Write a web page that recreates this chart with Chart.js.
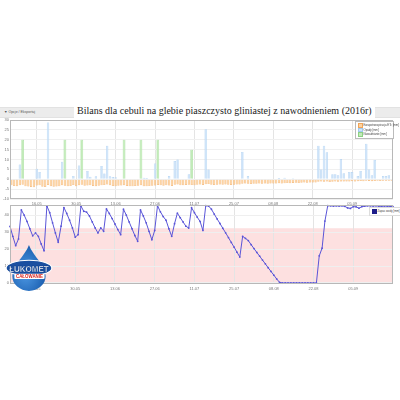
<!DOCTYPE html>
<html>
<head>
<meta charset="utf-8">
<script src="https://cdn.jsdelivr.net/npm/chart.js@4.4.0/dist/chart.umd.min.js"></script>
<style>
  html, body { margin: 0; padding: 0; background: #fff; width: 400px; height: 400px; overflow: hidden; position: relative; font-family: "Liberation Sans", Arial, sans-serif; }
  #band { position: absolute; left: 0; top: 107px; width: 400px; height: 9px; background: #ececec; border-top: 1px solid #e2e2e2; border-bottom: 1px solid #e2e2e2; }
  #opts { position: absolute; left: 4px; top: 109px; font-size: 3.5px; line-height: 6px; color: #555; white-space: nowrap; }
  #title { position: absolute; left: 74px; top: 104px; padding: 0 3px; background: #fff; font-family: "Liberation Serif", "DejaVu Serif", serif; font-size: 10px; line-height: 14px; color: #222; white-space: nowrap; }
  canvas { position: absolute; left: 0; }
  #c1 { top: 114px; }
  #c2 { top: 201px; }
  .legend { position: absolute; background: #fff; border: 0.5px solid #bbb; font-size: 2.8px; line-height: 3.3px; color: #444; padding: 1px 2px; white-space: nowrap; }
  .legend span.sw { display: inline-block; width: 2.5px; height: 2.5px; margin-right: 1px; vertical-align: middle; border: 0.3px solid #999; }
  #leg1 { left: 355px; top: 121px; width: 33px; }
  #leg2 { left: 369px; top: 207px; border-color: #ddd; }
  #logo { position: absolute; left: 4px; top: 242px; overflow: visible; }
</style>
</head>
<body>
<div id="band"></div>
<div id="opts">▼ Opcje / Eksportuj</div>
<div id="title">Bilans dla cebuli na glebie piaszczysto gliniastej z nawodnieniem (2016r)</div>
<canvas id="c1" width="400" height="93"></canvas>
<canvas id="c2" width="400" height="93"></canvas>
<div id="leg1" class="legend"></div>
<div id="leg2" class="legend"></div>
<svg id="logo" width="52" height="52" viewBox="0 0 50 50">
  <defs>
    <radialGradient id="drop" cx="0.4" cy="0.6" r="0.7">
      <stop offset="0" stop-color="#4f9be6"/>
      <stop offset="1" stop-color="#1456a8"/>
    </radialGradient>
  </defs>
  <path d="M24 3 C 20 14, 8 22, 8 33 A 16 14 0 0 0 40 33 C 40 22, 28 14, 24 3 Z" fill="url(#drop)"/>
  <ellipse cx="24" cy="25" rx="22" ry="7.5" fill="#1a4fa0" stroke="#fff" stroke-width="1"/>
  <text x="5" y="28.5" textLength="38" lengthAdjust="spacingAndGlyphs" font-family="Liberation Sans, Arial, sans-serif" font-weight="bold" font-size="8.5" fill="#fff" stroke="#0d3a80" stroke-width="0.3">ŁUKOMET</text>
  <rect x="10" y="30.5" width="29" height="5" rx="1" fill="#fff"/>
  <text x="11.5" y="34.7" textLength="26" lengthAdjust="spacingAndGlyphs" font-family="Liberation Sans, Arial, sans-serif" font-weight="bold" font-size="4.4" fill="#d9231d">CAŁOWANIE</text>
</svg>
<script>
// Days of the season, 07.05 – 19.09.2016
const dates = [
  "07.05","08.05","09.05","10.05","11.05","12.05","13.05","14.05","15.05","16.05","17.05","18.05","19.05","20.05","21.05","22.05","23.05","24.05","25.05","26.05","27.05","28.05","29.05","30.05","31.05",
  "01.06","02.06","03.06","04.06","05.06","06.06","07.06","08.06","09.06","10.06","11.06","12.06","13.06","14.06","15.06","16.06","17.06","18.06","19.06","20.06","21.06","22.06","23.06","24.06","25.06","26.06","27.06","28.06","29.06","30.06",
  "01.07","02.07","03.07","04.07","05.07","06.07","07.07","08.07","09.07","10.07","11.07","12.07","13.07","14.07","15.07","16.07","17.07","18.07","19.07","20.07","21.07","22.07","23.07","24.07","25.07","26.07","27.07","28.07","29.07","30.07","31.07",
  "01.08","02.08","03.08","04.08","05.08","06.08","07.08","08.08","09.08","10.08","11.08","12.08","13.08","14.08","15.08","16.08","17.08","18.08","19.08","20.08","21.08","22.08","23.08","24.08","25.08","26.08","27.08","28.08","29.08","30.08","31.08",
  "01.09","02.09","03.09","04.09","05.09","06.09","07.09","08.09","09.09","10.09","11.09","12.09","13.09","14.09","15.09","16.09","17.09","18.09","19.09"
];

// Dates that carry an axis label (Mondays, every two weeks)
const labelledDates = ["16.05","30.05","13.06","27.06","11.07","25.07","08.08","22.08","05.09"];

// Crop evapotranspiration ETc [mm] (drawn below zero)
const etc = [
  -3.1,-3.4,-3.6,-3.0,-2.8,-3.5,-3.7,-3.9,-4.0,-3.2,
  -3.0,-3.8,-3.9,-2.9,-3.6,-3.8,-3.7,-3.5,-3.0,-3.3,
  -3.6,-3.4,-2.9,-3.5,-3.1,-2.8,-3.3,-3.2,-3.0,-3.4,
  -3.5,-3.3,-3.0,-2.9,-2.6,-3.1,-3.4,-3.5,-3.3,-3.2,
  -3.0,-3.4,-3.6,-3.5,-3.4,-3.3,-3.1,-3.5,-3.6,-3.4,
  -3.3,-3.2,-2.9,-3.1,-3.3,-3.0,-3.2,-3.4,-2.8,-2.6,
  -3.0,-3.1,-2.9,-2.8,-2.9,-3.0,-2.8,-2.7,-2.9,-2.5,
  -2.4,-2.8,-2.9,-2.8,-2.7,-2.8,-2.7,-2.8,-2.9,-2.8,
  -2.7,-2.6,-2.3,-2.2,-2.3,-2.4,-2.3,-2.3,-2.2,-2.3,
  -2.2,-2.3,-2.2,-2.1,-2.2,-2.0,-2.1,-2.0,-1.9,-2.0,
  -1.9,-1.8,-1.9,-1.8,-1.7,-1.8,-1.7,-1.6,-1.7,-1.3,
  -1.2,-1.3,-1.2,-1.4,-1.3,-1.2,-1.3,-1.1,-1.2,-1.2,
  -1.1,-1.0,-1.1,-1.0,-0.9,-1.0,-0.8,-0.9,-1.0,-0.9,
  -0.8,-0.9,-0.8,-0.7,-0.8,-0.8
];

// Precipitation [mm]
const rain = [
  0,0,0,7.5,0,0,0,0,0,5.3,
  3.7,0,0,28.7,0,0,0,0,8.8,0,
  0,0,1.7,0,7,0,0,4.2,1.3,0,
  1.5,0,6.7,2.9,17,1.5,1.2,1.0,0,0,
  0,0,0,0,0,0,0,0.8,0.6,0,
  0,8,0,0,0,0,1.7,0,9.2,10,
  0,0,0,2.5,0,0,0,0,0,25.3,
  5,0,0,0,0,0,0,0,0,0,
  0,0,13.8,0,1.7,0,0,0,0,0,
  0,0,0,0,0,0.6,0,0.8,0,0,
  0.5,0,0,0,0,0,0,0,0,17,
  5,17,13.7,0,2.5,2.5,2,10.3,3,0,
  3.7,3.7,0,1.7,4.2,0,18,5,2,9.7,
  0,0,1.7,1.7,2,0
];

// Irrigation doses [mm]
const irrigation = [
  0,0,0,0,20,0,0,0,0,0,
  0,0,0,0,0,0,0,0,0,20,
  0,0,0,0,0,20,0,0,0,0,
  0,0,0,0,0,0,0,0,0,0,
  20,0,0,0,0,0,20,0,0,0,
  0,0,20,0,0,0,0,0,0,0,
  0,0,0,0,15,0,0,0,0,0,
  0,0,0,0,0,0,0,0,0,0,
  0,0,0,0,0,0,0,0,0,0,
  0,0,0,0,0,0,0,0,0,0,
  0,0,0,0,0,0,0,0,0,0,
  0,0,0,0,0,0,0,0,0,0,
  0,0,0,0,0,0,0,0,0,0,
  0,0,0,0,0,0
];

// Soil water reserve [mm]
const waterReserve = [
  33.4,27.5,22.0,26.0,43.1,40.0,36.3,32.0,27.8,29.5,
  27.5,23.0,19.0,45.4,41.5,35.5,29.5,24.0,33.5,44.5,
  41.0,37.0,32.5,27.0,28.5,45.4,42.3,41.8,39.5,36.0,
  32.5,29.5,32.5,30.5,43.7,41.0,38.0,34.8,31.5,28.5,
  43.5,40.0,36.0,32.0,28.0,24.6,43.1,39.5,35.5,30.5,
  25.5,31.0,45.6,42.0,39.2,37.0,32.0,27.5,35.0,41.2,
  38.5,36.0,33.5,32.4,44.4,41.5,38.8,36.3,31.0,45.6,
  45.4,43.5,40.6,37.8,35.1,32.3,29.6,26.8,23.9,21.1,
  18.2,15.3,27.5,26.3,25.0,22.6,20.3,18.0,15.8,13.5,
  11.3,9.0,6.8,4.6,2.4,0.4,0,0,0,0,
  0,0,0,0,0,0,0,0,0,16.0,
  20.5,36.5,45.6,45.5,45.4,45.5,45.4,45.5,45.2,44.3,
  44.0,45.0,44.9,44.1,45.0,45.3,45.5,45.5,45.4,45.5,
  45.3,45.2,45.4,45.3,45.2,45.1
];

// Readily available water limit [mm]; below it the crop is stressed
const stressLimit = 32.3;

const balanceNames = ["Ewapotranspiracja ETc [mm]", "Opady [mm]", "Nawadnianie [mm]"];
const reserveName = "Zapas wody [mm]";

const colEt = { fill: "rgba(252,196,130,0.75)", line: "rgba(240,160,80,0.9)" };
const colRain = { fill: "rgba(200,224,248,0.9)", line: "rgba(160,200,238,1)" };
const colIrr = { fill: "rgba(190,234,180,0.95)", line: "rgba(140,208,130,1)" };
const colLine = "#5a55d8";

const tickFont = { family: "Liberation Sans, Arial, sans-serif", size: 4 };
const isLabelled = i => labelledDates.includes(dates[i]);

const frame = {
  id: "frame",
  afterDraw(chart) {
    const a = chart.chartArea, c = chart.ctx;
    c.save();
    c.strokeStyle = "#b8b8b8";
    c.lineWidth = 1;
    c.strokeRect(Math.round(a.left) + 0.5, Math.round(a.top) + 0.5, Math.round(a.right - a.left) - 1, Math.round(a.bottom - a.top) - 1);
    c.restore();
  }
};

const stressZone = {
  id: "stressZone",
  beforeDraw(chart) {
    const a = chart.chartArea, y = chart.scales.y.getPixelForValue(stressLimit);
    const c = chart.ctx;
    c.save();
    c.fillStyle = "#fde0e0";
    c.fillRect(a.left, y, a.right - a.left, a.bottom - y);
    c.restore();
  }
};

const xScale = (offset, axisHeight) => ({
  type: "category",
  offset: offset,
  grid: {
    offset: false,
    drawTicks: false,
    color: ctx => isLabelled(ctx.index) ? "#e4e4e4" : "rgba(0,0,0,0)",
    lineWidth: 1
  },
  border: { display: false },
  ticks: {
    autoSkip: false,
    maxRotation: 0,
    padding: 2,
    font: tickFont,
    color: "#777",
    callback: (v, i) => isLabelled(i) ? dates[i] : ""
  },
  afterFit: s => { s.height = axisHeight; }
});

new Chart(document.getElementById("c1"), {
  type: "bar",
  data: {
    labels: dates,
    datasets: [
      { label: balanceNames[0], data: etc, backgroundColor: colEt.fill, borderColor: colEt.line, borderWidth: 0.5, barPercentage: 0.8, categoryPercentage: 1 },
      { label: balanceNames[1], data: rain, backgroundColor: colRain.fill, borderColor: colRain.line, borderWidth: 0.5, barPercentage: 0.85, categoryPercentage: 1 },
      { label: balanceNames[2], data: irrigation, backgroundColor: colIrr.fill, borderColor: colIrr.line, borderWidth: 0.5, barPercentage: 0.95, categoryPercentage: 1 }
    ]
  },
  options: {
    responsive: false,
    devicePixelRatio: 1,
    animation: false,
    datasets: { bar: { grouped: false } },
    layout: { padding: { left: 0, right: 7, top: 6, bottom: 0 } },
    plugins: { legend: { display: false }, tooltip: { enabled: false } },
    scales: {
      x: xScale(true, 8),
      y: {
        min: -10, max: 30,
        ticks: { stepSize: 5, font: tickFont, color: "#777", padding: 1 },
        grid: { color: "#f0f0f0", drawTicks: false },
        border: { display: false },
        afterFit: s => { s.width = 10; }
      }
    }
  },
  plugins: [frame]
});

new Chart(document.getElementById("c2"), {
  type: "line",
  data: {
    labels: dates,
    datasets: [
      { label: reserveName, data: waterReserve, borderColor: colLine, backgroundColor: colLine, borderWidth: 1, pointRadius: 0.9, pointBackgroundColor: colLine, pointBorderWidth: 0, tension: 0, fill: false, clip: 4 }
    ]
  },
  options: {
    responsive: false,
    devicePixelRatio: 1,
    animation: false,
    layout: { padding: { left: 0, right: 7, top: 4, bottom: 0 } },
    plugins: { legend: { display: false }, tooltip: { enabled: false } },
    scales: {
      x: xScale(false, 10),
      y: {
        min: -0.6, max: 46,
        afterBuildTicks: s => { s.ticks = [0, 10, 20, 30, 40].map(v => ({ value: v })); },
        ticks: { font: tickFont, color: "#777", padding: 1 },
        grid: { color: "#efefef", drawTicks: false },
        border: { display: false },
        afterFit: s => { s.width = 10; }
      }
    }
  },
  plugins: [stressZone, frame]
});

// Legends
const leg1 = document.getElementById("leg1");
[[balanceNames[0], colEt], [balanceNames[1], colRain], [balanceNames[2], colIrr]].forEach(([name, col]) => {
  const row = document.createElement("div");
  row.innerHTML = '<span class="sw" style="background:' + col.fill + ';border-color:' + col.line + '"></span>' + name;
  leg1.appendChild(row);
});
document.getElementById("leg2").innerHTML = '<span class="sw" style="background:#1d1d8a;border-color:#1d1d8a"></span>' + reserveName;
</script>
</body>
</html>
